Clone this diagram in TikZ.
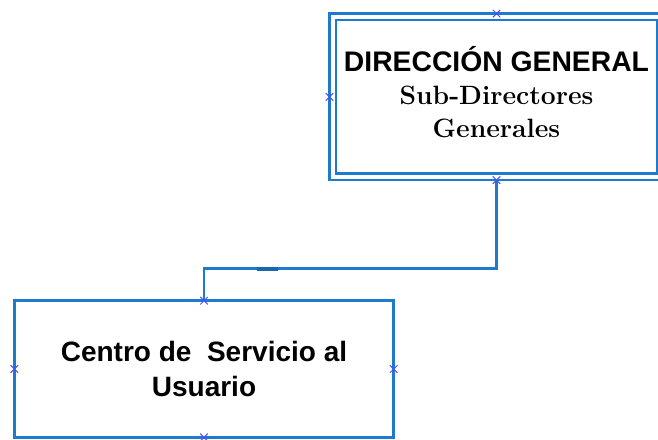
\documentclass[tikz,border=0pt]{standalone}
\usepackage{fontspec}
\newfontfamily\arialfont{Liberation Sans}
\usetikzlibrary{shapes.misc}
\definecolor{boxblue}{RGB}{30,122,205}
\definecolor{markblue}{RGB}{80,80,250}
\tikzset{
  dirbox/.style={draw=boxblue, line width=2.3pt, double=white, double distance=4.2pt,
    minimum width=327.5pt, minimum height=160pt, inner sep=0pt, outer sep=3.25pt,
    align=center, font=\bfseries\fontsize{26.5}{33}\selectfont},
  unitbox/.style={draw=boxblue, line width=2.5pt, minimum width=379.4pt,
    minimum height=136.6pt, inner sep=0pt, outer sep=0pt, align=center,
    font=\arialfont\bfseries\fontsize{28}{35}\selectfont},
  link/.style={draw=boxblue, line width=2.5pt},
  xmark/.style={draw=markblue, cross out, line width=1pt, minimum size=6.5pt, inner sep=0pt}
}
\begin{document}
\begin{tikzpicture}[x=1pt, y=-1pt]
    \useasboundingbox (0,0) rectangle (658,439);
    % Draw boxes
    \node [dirbox] (dg) at (496.5,96.8)
      {{\arialfont\fontsize{28.3}{33}\selectfont DIRECCIÓN GENERAL}\\Sub-Directores\\Generales\rule[-10pt]{0pt}{0pt}};
    \node [unitbox] (csu) at (204,369) {Centro de\ \ Servicio al\\Usuario};

    % Draw connector
    \coordinate (bend) at (350,268.7);
    \coordinate (tka) at (256.7,268.7);
    \coordinate (tkb) at (278.3,268.7);
    \draw [link] (dg.south) |- (bend) -| (csu.north);
    \draw [link, draw=boxblue!85!black, line width=4pt] (tka) -- (tkb);

    % Anchor marks
    \foreach \a in {north,west,south,east} {
      \node [xmark] (mdg-\a) at (dg.\a) {};
      \node [xmark] (mcsu-\a) at (csu.\a) {};
    }
\end{tikzpicture}
\end{document}
